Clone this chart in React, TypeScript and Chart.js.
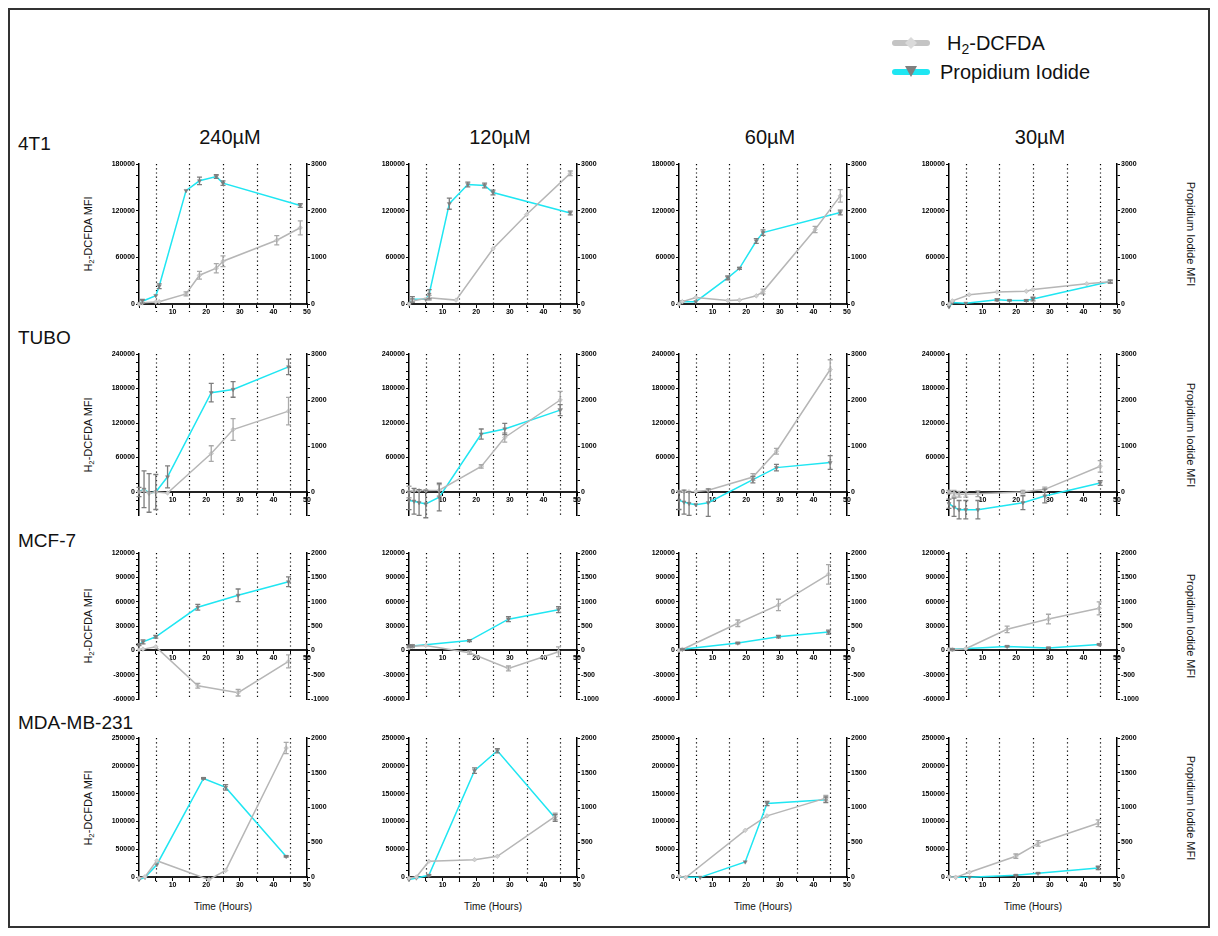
import React, { useEffect, useRef } from 'react';
import { Chart, registerables } from 'chart.js';

Chart.register(...registerables);

// ---------- labels ----------
const ROW_LABELS = ['4T1', 'TUBO', 'MCF-7', 'MDA-MB-231'];
const COL_LABELS = ['240µM', '120µM', '60µM', '30µM'];
const X_LABELS = [10, 20, 30, 40, 50];
const DOTTED_X = [5, 15, 25, 35, 45];

// y tick labels per row (left = H2-DCFDA, right = Propidium Iodide)
const LT_4T1 = [0, 60000, 120000, 180000];
const RT_4T1 = [0, 1000, 2000, 3000];
const LT_TUBO = [0, 60000, 120000, 180000, 240000];
const RT_TUBO = [0, 1000, 2000, 3000];
const LT_MCF7 = [-60000, -30000, 0, 30000, 60000, 90000, 120000];
const RT_MCF7 = [-1000, -500, 0, 500, 1000, 1500, 2000];
const LT_MDA = [0, 50000, 100000, 150000, 200000, 250000];
const RT_MDA = [0, 500, 1000, 1500, 2000];
const L_MIN = [0, -40000, -60000, 0];
const R_MIN = [0, -500, -1000, 0];

// ---------- data: 4T1 ----------
const T_4T1_240 = [0, 1, 5, 6, 14, 18, 23, 25, 41, 48];
const DCF_4T1_240 = [0, 1500, 2500, 3000, 13000, 37000, 46000, 55000, 82000, 98000];
const DCFE_4T1_240 = [0, 0, 0, 0, 2500, 5000, 6000, 7000, 6000, 9000];
const PI_4T1_240 = [0, 60, 180, 380, 2430, 2640, 2730, 2590, null, 2110];
const PIE_4T1_240 = [0, 40, 0, 50, 0, 80, 40, 50, 0, 40];

const T_4T1_120 = [0, 1, 5, 6, 12, 14, 17.5, 22.5, 25, 35, 48];
const DCF_4T1_120 = [0, 4000, null, 8000, null, 5000, null, null, 71000, 115000, 168000];
const DCFE_4T1_120 = [0, 2000, 0, 3000, 0, 0, 0, 0, 0, 0, 3000];
const PI_4T1_120 = [0, 100, 100, 210, 2150, null, 2560, 2540, 2390, null, 1950];
const PIE_4T1_120 = [0, 60, 0, 100, 120, 0, 50, 50, 50, 0, 40];

const T_4T1_60 = [0, 1, 5, 14.5, 18, 23, 25, 40.5, 48];
const DCF_4T1_60 = [0, 3000, 8300, 4500, 5000, 10500, 16000, 95700, 139000];
const DCFE_4T1_60 = [0, 0, 0, 0, 0, 0, 3000, 4000, 8000];
const PI_4T1_60 = [0, 50, 50, 560, 765, 1350, 1530, null, 1960];
const PIE_4T1_60 = [0, 0, 0, 40, 20, 50, 60, 0, 50];

const T_4T1_30 = [0, 1, 5, 6, 14.3, 18, 23, 25, 41, 48];
const DCF_4T1_30 = [0, 4000, null, 11900, 15500, null, 16400, 18600, 26000, 28700];
const DCFE_4T1_30 = [0, 0, 0, 0, 0, 0, 0, 0, 0, 2000];
const PI_4T1_30 = [-60, 30, 15, null, 90, 75, 75, 105, null, 480];
const PIE_4T1_30 = [0, 0, 0, 0, 20, 10, 20, 40, 0, 30];

// ---------- data: TUBO ----------
const T_TUBO_240 = [0, 1.5, 3, 5, 8.5, 21.5, 28, 44.5];
const DCF_TUBO_240 = [0, 2000, -2000, 0, -1700, 66800, 108600, 140600];
const DCFE_TUBO_240 = [0, 0, 0, 0, 0, 13600, 18900, 24000];
const PI_TUBO_240 = [0, 60, -20, 0, 330, 2160, 2230, 2720];
const PIE_TUBO_240 = [100, 400, 420, 380, 240, 200, 170, 170];

const T_TUBO_120 = [0, 1.5, 3, 5, 9, 21.5, 28.5, 45];
const DCF_TUBO_120 = [0, 2500, 2500, 2500, 3000, 44400, 94800, 160000];
const DCFE_TUBO_120 = [10000, 0, 0, 0, 10000, 3000, 8000, 15000];
const PI_TUBO_120 = [-185, -200, -230, -260, -110, 1260, 1370, 1780];
const PIE_TUBO_120 = [200, 280, 280, 300, 300, 110, 120, 120];

const T_TUBO_60 = [0, 1.5, 3, 5, 8.7, 22, 29, 45];
const DCF_TUBO_60 = [0, 500, 500, 1000, 2900, 26100, 70900, 213000];
const DCFE_TUBO_60 = [0, 0, 0, 0, 0, 6000, 5000, 17000];
const PI_TUBO_60 = [-180, -220, -250, -276, -232, 269, 530, 640];
const PIE_TUBO_60 = [200, 260, 260, 0, 300, 70, 70, 150];

const T_TUBO_30 = [0, 1.5, 3, 5, 8.6, 22, 28.5, 45];
const DCF_TUBO_30 = [0, -2000, -4000, -4000, -3000, 0, 4600, 44700];
const DCFE_TUBO_30 = [3000, 5000, 5000, 5000, 5000, 3000, 4000, 10000];
const PI_TUBO_30 = [-254, -330, -385, -385, -385, -232, -87, 196];
const PIE_TUBO_30 = [100, 200, 200, 200, 200, 150, 150, 50];

// ---------- data: MCF-7 ----------
const T_MCF7_240 = [0, 1.2, 5, 17.5, 29.5, 44.5];
const DCF_MCF7_240 = [700, 1500, 4300, -43700, -52300, -13700];
const DCFE_MCF7_240 = [0, 0, 0, 3000, 4000, 8000];
const PI_MCF7_240 = [118, 174, 279, 885, 1130, 1408];
const PIE_MCF7_240 = [20, 40, 30, 60, 130, 100];

const T_MCF7_120 = [0, 1, 5, 18, 29.6, 44.5];
const DCF_MCF7_120 = [2900, 5000, 6000, -3000, -22300, -1700];
const DCFE_MCF7_120 = [0, 1500, 0, 2000, 3000, 6000];
const PI_MCF7_120 = [84, 90, null, 200, 640, 836];
const PIE_MCF7_120 = [20, 20, 0, 20, 50, 60];

const T_MCF7_60 = [0, 1, 17.5, 29.6, 44.5];
const DCF_MCF7_60 = [0, 1000, 33400, 56000, 93700];
const DCFE_MCF7_60 = [0, 1000, 4000, 7000, 12000];
const PI_MCF7_60 = [0, 20, 150, 280, 375];
const PIE_MCF7_60 = [0, 10, 15, 25, 40];

const T_MCF7_30 = [0, 1, 5, 17.3, 29.6, 44.7];
const DCF_MCF7_30 = [800, 800, 2000, 25900, 38500, 51800];
const DCFE_MCF7_30 = [0, 1000, 0, 4000, 6000, 8000];
const PI_MCF7_30 = [20, 20, null, 80, 50, 120];
const PIE_MCF7_30 = [0, 10, 0, 10, 10, 10];

// ---------- data: MDA-MB-231 ----------
const T_MDA_240 = [0, 1.8, 5.3, 19.2, 20.8, 25.8, 43.8];
const DCF_MDA_240 = [-1800, 500, 29200, null, -4800, 11900, 232000];
const DCFE_MDA_240 = [0, 0, 0, 0, 0, 0, 10000];
const PI_MDA_240 = [-38, -5, 177, 1418, null, 1289, 296];
const PIE_MDA_240 = [0, 0, 0, 10, 0, 40, 10];

const T_MDA_120 = [0, 2.2, 5.9, 19.5, 26.3, 43.5];
const DCF_MDA_120 = [-2000, 0, 28200, 31200, 37200, 109000];
const DCFE_MDA_120 = [0, 0, 0, 0, 0, 6000];
const PI_MDA_120 = [-38, -14, 24, 1530, 1817, 849];
const PIE_MDA_120 = [0, 0, 10, 40, 30, 50];

const T_MDA_60 = [0, 2, 6.3, 19.7, 26.2, 43.7];
const DCF_MDA_60 = [1200, -1000, null, 83900, 109900, 141900];
const DCFE_MDA_60 = [0, 0, 0, 0, 0, 5000];
const PI_MDA_60 = [0, -5, -5, 217, 1058, 1111];
const PIE_MDA_60 = [0, 0, 0, 0, 30, 40];

const T_MDA_30 = [0, 2, 6.1, 19.9, 26.5, 44.4];
const DCF_MDA_30 = [0, -600, 8500, 37400, 60400, 96600];
const DCFE_MDA_30 = [0, 0, 0, 4000, 5000, 6000];
const PI_MDA_30 = [0, -5, -5, 24, 53, 130];
const PIE_MDA_30 = [0, 0, 0, 5, 5, 25];

// table built from the arrays above: [row][col]
const PANELS = [
  [
    [T_4T1_240, DCF_4T1_240, DCFE_4T1_240, PI_4T1_240, PIE_4T1_240],
    [T_4T1_120, DCF_4T1_120, DCFE_4T1_120, PI_4T1_120, PIE_4T1_120],
    [T_4T1_60, DCF_4T1_60, DCFE_4T1_60, PI_4T1_60, PIE_4T1_60],
    [T_4T1_30, DCF_4T1_30, DCFE_4T1_30, PI_4T1_30, PIE_4T1_30],
  ],
  [
    [T_TUBO_240, DCF_TUBO_240, DCFE_TUBO_240, PI_TUBO_240, PIE_TUBO_240],
    [T_TUBO_120, DCF_TUBO_120, DCFE_TUBO_120, PI_TUBO_120, PIE_TUBO_120],
    [T_TUBO_60, DCF_TUBO_60, DCFE_TUBO_60, PI_TUBO_60, PIE_TUBO_60],
    [T_TUBO_30, DCF_TUBO_30, DCFE_TUBO_30, PI_TUBO_30, PIE_TUBO_30],
  ],
  [
    [T_MCF7_240, DCF_MCF7_240, DCFE_MCF7_240, PI_MCF7_240, PIE_MCF7_240],
    [T_MCF7_120, DCF_MCF7_120, DCFE_MCF7_120, PI_MCF7_120, PIE_MCF7_120],
    [T_MCF7_60, DCF_MCF7_60, DCFE_MCF7_60, PI_MCF7_60, PIE_MCF7_60],
    [T_MCF7_30, DCF_MCF7_30, DCFE_MCF7_30, PI_MCF7_30, PIE_MCF7_30],
  ],
  [
    [T_MDA_240, DCF_MDA_240, DCFE_MDA_240, PI_MDA_240, PIE_MDA_240],
    [T_MDA_120, DCF_MDA_120, DCFE_MDA_120, PI_MDA_120, PIE_MDA_120],
    [T_MDA_60, DCF_MDA_60, DCFE_MDA_60, PI_MDA_60, PIE_MDA_60],
    [T_MDA_30, DCF_MDA_30, DCFE_MDA_30, PI_MDA_30, PIE_MDA_30],
  ],
];
const LEFT_TICKS = [LT_4T1, LT_TUBO, LT_MCF7, LT_MDA];
const RIGHT_TICKS = [RT_4T1, RT_TUBO, RT_MCF7, RT_MDA];

// ---------- styling / layout ----------
const FONT = "'Liberation Sans', Arial, Helvetica, sans-serif";
const CYAN = '#1fe6f2';
const GREY_LINE = '#b6b6b6';
const OFF = 10; // page offset of container padding box
const PLOT_L = [139, 409, 679, 949];
const PLOT_W = 168;
const TITLE_X = [230, 500, 770, 1040];
const ROW_TOP = [164, 354, 553, 738];
const ROW_H = [140, 161, 146, 139];
const PAD_L = 50;
const PAD_R = 40;
const RAXIS_W = 35;
const PAD_T = 8;
const PAD_B = 24;

const vlinePlugin = {
  id: 'vlines',
  beforeDatasetsDraw(chart: any, _args: any, opts: any) {
    const { ctx, chartArea } = chart;
    const xs = chart.scales.x;
    ctx.save();
    ctx.strokeStyle = '#000';
    ctx.lineWidth = 1.2;
    ctx.setLineDash([1.2, 3]);
    for (const v of DOTTED_X) {
      const px = Math.round(xs.getPixelForValue(v)) + 0.5;
      ctx.beginPath();
      ctx.moveTo(px, chartArea.top);
      ctx.lineTo(px, chartArea.bottom + (opts.ext || 0));
      ctx.stroke();
    }
    ctx.restore();
  },
};

const errPlugin = {
  id: 'errbars',
  afterDatasetsDraw(chart: any) {
    const { ctx } = chart;
    chart.data.datasets.forEach((ds: any, i: number) => {
      const meta = chart.getDatasetMeta(i);
      const ys = chart.scales[ds.yAxisID];
      ctx.save();
      ctx.strokeStyle = ds.errColor;
      ctx.lineWidth = 1.3;
      ds.data.forEach((pt: any, j: number) => {
        if (!pt.e) return;
        const el = meta.data[j];
        const x = el.x;
        const y1 = ys.getPixelForValue(pt.y + pt.e);
        const y2 = ys.getPixelForValue(pt.y - pt.e);
        ctx.beginPath();
        ctx.moveTo(x, y1);
        ctx.lineTo(x, y2);
        ctx.moveTo(x - 2.5, y1);
        ctx.lineTo(x + 2.5, y1);
        ctx.moveTo(x - 2.5, y2);
        ctx.lineTo(x + 2.5, y2);
        ctx.stroke();
      });
      ctx.restore();
    });
  },
};

function toPts(T: number[], Y: (number | null)[], E: number[]) {
  const out: any[] = [];
  T.forEach((x, i) => {
    const y = Y[i];
    if (y === null || y === undefined) return;
    out.push({ x, y, e: E[i] || 0 });
  });
  return out;
}

function minorTicks(min: number, max: number, step: number) {
  const out: any[] = [];
  const start = Math.ceil(min / step - 1e-9) * step;
  for (let v = start; v <= max + 1e-6; v += step) out.push({ value: Math.round(v * 1000) / 1000 });
  return out;
}

function yScale(labels: number[], min: number, position: string, showNeg: boolean, fixedW: number) {
  const max = labels[labels.length - 1];
  const step = (labels[1] - labels[0]) / 4;
  return {
    type: 'linear',
    position,
    min,
    max,
    afterBuildTicks: (axis: any) => {
      axis.ticks = minorTicks(min, max, step);
    },
    afterFit: (axis: any) => {
      axis.width = fixedW;
    },
    border: { display: true, color: '#000', width: 1.5 },
    grid: { drawOnChartArea: false, drawTicks: true, tickLength: 3, color: '#000', lineWidth: 1 },
    ticks: {
      autoSkip: false,
      maxRotation: 0,
      padding: 1,
      color: '#000',
      font: { family: FONT, size: 7, weight: 'bold' },
      callback: (v: number) => (labels.includes(v) && (showNeg || v >= 0) ? String(v) : ''),
    },
  };
}

function Panel({ r, c }: { r: number; c: number }) {
  const ref = useRef<HTMLCanvasElement>(null);
  const cw = PAD_L + PLOT_W + PAD_R;
  const ch = PAD_T + ROW_H[r] + PAD_B;
  useEffect(() => {
    const [T, DCF, DCFE, PI, PIE] = PANELS[r][c] as any;
    const showNeg = r === 2;
    const chart = new Chart(ref.current as HTMLCanvasElement, {
      type: 'line',
      data: {
        datasets: [
          {
            label: 'H2-DCFDA',
            data: toPts(T, DCF, DCFE),
            yAxisID: 'y',
            borderColor: GREY_LINE,
            borderWidth: 1.5,
            tension: 0,
            pointStyle: 'rectRot',
            pointRadius: 2.3,
            pointBackgroundColor: '#d2d2d2',
            pointBorderColor: '#b0b0b0',
            pointBorderWidth: 0.5,
            clip: false,
            errColor: '#a9a9a9',
          } as any,
          {
            label: 'Propidium Iodide',
            data: toPts(T, PI, PIE),
            yAxisID: 'y1',
            borderColor: CYAN,
            borderWidth: 1.5,
            tension: 0,
            pointStyle: 'triangle',
            rotation: 180,
            pointRadius: 2.3,
            pointBackgroundColor: '#7c7c7c',
            pointBorderColor: '#7c7c7c',
            pointBorderWidth: 0.5,
            clip: false,
            errColor: '#7d7d7d',
          } as any,
        ],
      },
      options: {
        responsive: false,
        animation: false,
        devicePixelRatio: 1,
        events: [],
        layout: { padding: { top: PAD_T, bottom: PAD_B, left: 0, right: PAD_R - RAXIS_W } },
        plugins: {
          legend: { display: false },
          tooltip: { enabled: false },
          vlines: { ext: L_MIN[r] === 0 ? 8 : 0 },
        } as any,
        scales: {
          x: {
            type: 'linear',
            min: 0,
            max: 50,
            position: { y: 0 },
            afterBuildTicks: (axis: any) => {
              axis.ticks = minorTicks(0, 50, 5);
            },
            border: { display: true, color: '#222', width: 2 },
            grid: { drawOnChartArea: false, drawTicks: true, tickLength: 3, color: '#000', lineWidth: 1 },
            ticks: {
              autoSkip: false,
              maxRotation: 0,
              padding: 1,
              color: '#000',
              font: { family: FONT, size: 7, weight: 'bold' },
              callback: (v: number) => (X_LABELS.includes(v) ? String(v) : ''),
            },
          },
          y: yScale(LEFT_TICKS[r], L_MIN[r], 'left', showNeg, PAD_L),
          y1: yScale(RIGHT_TICKS[r], R_MIN[r], 'right', showNeg, RAXIS_W),
        } as any,
      },
      plugins: [vlinePlugin, errPlugin],
    } as any);
    return () => chart.destroy();
  }, [r, c]);
  return (
    <canvas
      ref={ref}
      width={cw}
      height={ch}
      style={{
        position: 'absolute',
        left: PLOT_L[c] - PAD_L - OFF,
        top: ROW_TOP[r] - PAD_T - OFF,
        width: cw,
        height: ch,
      }}
    />
  );
}

const sub = { fontSize: '0.7em', verticalAlign: '-0.3em', lineHeight: 0 } as React.CSSProperties;

function Txt({ x, y, size, children, rot = 0, anchor = 'center' }: any) {
  const tx = anchor === 'left' ? '0' : '-50%';
  return (
    <div
      style={{
        position: 'absolute',
        left: x - OFF,
        top: y - OFF,
        fontFamily: FONT,
        fontSize: size,
        color: '#111',
        whiteSpace: 'nowrap',
        lineHeight: 1,
        transform: `translate(${tx}, -50%) rotate(${rot}deg)`,
        transformOrigin: anchor === 'left' ? '0 50%' : '50% 50%',
      }}
    >
      {children}
    </div>
  );
}

export default function App() {
  const rowCentres = ROW_TOP.map((t, i) => t + ROW_H[i] / 2);
  const rowLabelY = [143, 337, 540, 722];
  return (
    <div
      style={{
        position: 'relative',
        width: 1202,
        height: 920,
        border: '2px solid #333',
        boxSizing: 'border-box',
        background: '#fff',
        overflow: 'hidden',
      }}
    >
      {/* legend */}
      <svg
        width={50}
        height={50}
        style={{ position: 'absolute', left: 890 - OFF, top: 30 - OFF }}
      >
        <line x1={5} y1={13} x2={37} y2={13} stroke="#c4c4c4" strokeWidth={6} strokeLinecap="round" />
        <polygon points="21,7 27,13 21,19 15,13" fill="#dadada" />
        <line x1={5} y1={42} x2={37} y2={42} stroke={CYAN} strokeWidth={6} strokeLinecap="round" />
        <polygon points="15,36 27,36 21,47" fill="#7f7f7f" />
      </svg>
      <Txt x={947} y={43} size={20} anchor="left">
        H<sub style={sub}>2</sub>-DCFDA
      </Txt>
      <Txt x={940} y={72} size={20} anchor="left">
        Propidium Iodide
      </Txt>

      {ROW_LABELS.map((l, i) => (
        <Txt key={l} x={18} y={rowLabelY[i]} size={19} anchor="left">
          {l}
        </Txt>
      ))}
      {COL_LABELS.map((l, i) => (
        <Txt key={l} x={TITLE_X[i]} y={137} size={20}>
          {l}
        </Txt>
      ))}
      {rowCentres.map((cy, i) => (
        <Txt key={'lt' + i} x={88} y={cy} size={11} rot={-90}>
          H<sub style={sub}>2</sub>-DCFDA MFI
        </Txt>
      ))}
      {rowCentres.map((cy, i) => (
        <Txt key={'rt' + i} x={1190} y={cy} size={11} rot={90}>
          Propidium Iodide MFI
        </Txt>
      ))}
      {PLOT_L.map((l, i) => (
        <Txt key={'tx' + i} x={l + PLOT_W / 2} y={907} size={10}>
          Time (Hours)
        </Txt>
      ))}
      {ROW_LABELS.map((_, r) =>
        COL_LABELS.map((__, c) => <Panel key={r + '-' + c} r={r} c={c} />)
      )}
    </div>
  );
}
